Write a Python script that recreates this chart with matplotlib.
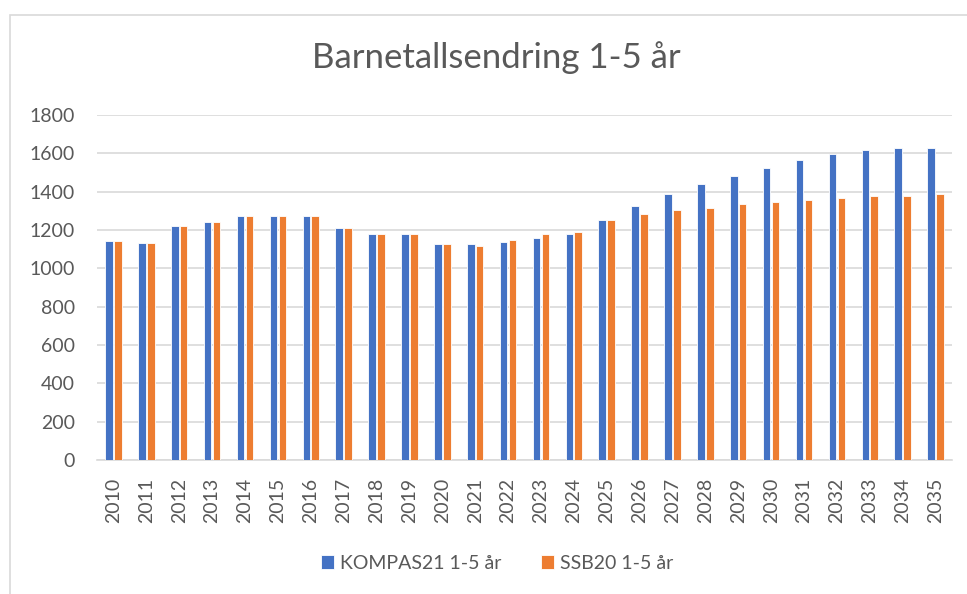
import matplotlib.pyplot as plt
import numpy as np
from matplotlib.patches import Rectangle

plt.rcParams['font.family'] = ['Lato', 'DejaVu Sans']

# Data
years = [str(y) for y in range(2010, 2036)]
kompas21 = [1145, 1134, 1220, 1241, 1272, 1272, 1272, 1209, 1178, 1178, 1126, 1126, 1136,
            1157, 1178, 1251, 1324, 1387, 1439, 1481, 1523, 1564, 1596, 1617, 1627, 1627]
ssb20 = [1145, 1134, 1220, 1241, 1272, 1272, 1272, 1209, 1178, 1178, 1126, 1116, 1147,
         1178, 1189, 1251, 1283, 1303, 1314, 1335, 1345, 1356, 1366, 1377, 1377, 1387]
series_names = ['KOMPAS21 1-5 år', 'SSB20 1-5 år']

text_color = '#595959'
grid_color = '#D9D9D9'

fig = plt.figure(figsize=(9.67, 5.94), dpi=100)
ax = fig.add_axes([0.1003, 0.2256, 0.8842, 0.5808])

x = np.arange(len(years))
w = 0.23
ax.bar(x - 0.135, kompas21, w, color='#4472C4', edgecolor='white', linewidth=0.6,
       label=series_names[0], zorder=3)
ax.bar(x + 0.135, ssb20, w, color='#ED7D31', edgecolor='white', linewidth=0.6,
       label=series_names[1], zorder=3)

ax.set_xlim(-0.5, len(years) - 0.5)
ax.set_ylim(0, 1800)
ax.set_yticks(range(0, 1801, 200))
ax.set_xticks(x)
ax.set_xticklabels(years, rotation=90)
ax.yaxis.grid(True, color=grid_color, linewidth=1.2, zorder=0)
ax.set_axisbelow(True)
for s in ['top', 'right', 'left']:
    ax.spines[s].set_visible(False)
ax.spines['bottom'].set_color(grid_color)
ax.spines['bottom'].set_linewidth(1.2)
ax.tick_params(axis='y', length=0, pad=16, labelsize=14, labelcolor=text_color)
ax.tick_params(axis='x', length=0, pad=13, labelsize=14, labelcolor=text_color)

fig.text(0.513, 0.903, 'Barnetallsendring 1-5 år', ha='center', va='center',
         fontsize=25, color=text_color)

ax.legend(loc='center', bbox_to_anchor=(0.514, 0.052), bbox_transform=fig.transFigure,
          ncol=2, frameon=False, fontsize=14, labelcolor=text_color,
          handlelength=0.7, handleheight=0.7, handletextpad=0.3, columnspacing=2.0)

# chart border
fig.patches.append(Rectangle((0.0103, -0.05), 1.1, 1.0247, transform=fig.transFigure,
                             fill=False, edgecolor=grid_color, linewidth=1.2))

fig.savefig('out.png', dpi=100)
